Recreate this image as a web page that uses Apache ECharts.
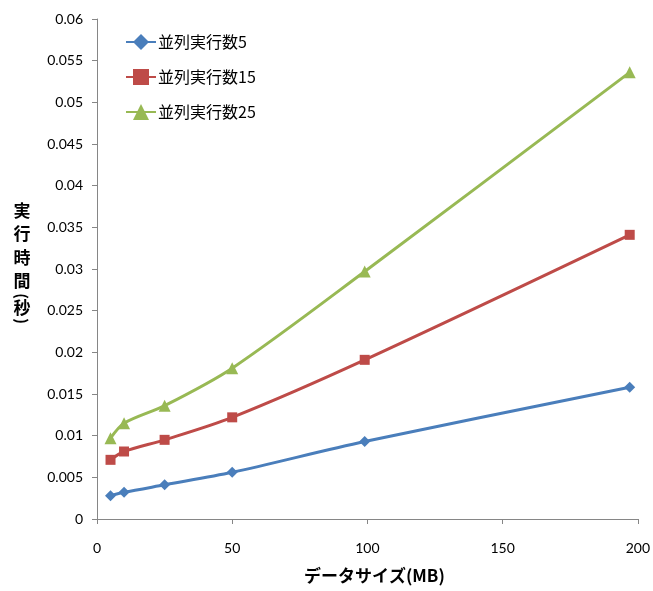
<!DOCTYPE html>
<html><head><meta charset="utf-8">
<script src="https://cdn.jsdelivr.net/npm/echarts@6/dist/echarts.min.js"></script>
<style>html,body{margin:0;padding:0;background:#fff}#c{width:653px;height:591px}</style>
</head><body><div id="c"></div>
<script>
const dataSizes = [5, 10, 25, 50, 99, 197];
const seriesNames = ['並列実行数5', '並列実行数15', '並列実行数25'];
const par5 = [0.0028, 0.0032, 0.0041, 0.0056, 0.0093, 0.0158];
const par15 = [0.0071, 0.0081, 0.0095, 0.0122, 0.0191, 0.0341];
const par25 = [0.0097, 0.0115, 0.0136, 0.0181, 0.0297, 0.0536];
const xTicks = [0, 50, 100, 150, 200];
const yTicks = [0, 0.005, 0.01, 0.015, 0.02, 0.025, 0.03, 0.035, 0.04, 0.045, 0.05, 0.055, 0.06];
const yTitleChars = ['実', '行', '時', '間', '(', '秒', ')'];
const xTitle = 'データサイズ(MB)';

const colors = ['#4a7ebb', '#be4b48', '#98b954'];
const symbols = ['diamond', 'rect', 'triangle'];
const sizes = [11, 10, 12];
const vals = [par5, par15, par25];
const yTitleY = [211, 234, 258, 281, 296, 308, 321];

const chart = echarts.init(document.getElementById('c'), null, {renderer: 'canvas'});
const font = 'Lato, "Noto Sans CJK JP", sans-serif';
const cjk = '"Noto Sans CJK JP", sans-serif';
chart.setOption({
  animation: false,
  textStyle: {fontFamily: font},
  grid: {left: 97, right: 13, top: 19, bottom: 72, containLabel: false},
  legend: {
    orient: 'vertical', left: 120, top: 27, itemGap: 15, itemWidth: 30, itemHeight: 20,
    textStyle: {fontSize: 16, lineHeight: 20, color: '#000', fontFamily: cjk, padding: [0, 0, 0, -3]},
    data: seriesNames
  },
  xAxis: {
    type: 'value', min: xTicks[0], max: xTicks[xTicks.length - 1], interval: 50,
    name: xTitle, nameLocation: 'middle', nameGap: 48,
    nameTextStyle: {fontSize: 17, fontWeight: 'bold', color: '#000', fontFamily: cjk, padding: [0, 0, 0, 14]},
    axisLine: {lineStyle: {color: '#868686', width: 1}},
    axisTick: {show: true, length: 5, lineStyle: {color: '#868686'}},
    axisLabel: {fontSize: 14, color: '#000', margin: 22},
    splitLine: {show: false}
  },
  yAxis: {
    type: 'value', min: yTicks[0], max: yTicks[yTicks.length - 1], interval: 0.005,
    axisLine: {show: true, lineStyle: {color: '#868686', width: 1}},
    axisTick: {show: true, length: 5, lineStyle: {color: '#868686'}},
    axisLabel: {fontSize: 14, color: '#000', margin: 14, formatter: v => String(+v.toFixed(3))},
    splitLine: {show: false}
  },
  graphic: yTitleChars.map((ch, i) => {
    const paren = ch === '(' || ch === ')';
    return {
      type: 'text', x: 22, y: yTitleY[i], rotation: paren ? -Math.PI / 2 : 0,
      style: {text: ch, fill: '#000', align: 'center', verticalAlign: 'middle',
        font: paren ? 'bold 15px "Noto Sans CJK JP", sans-serif' : 'bold 17px "Noto Sans CJK JP", sans-serif'}
    };
  }),
  series: seriesNames.map((n, i) => ({
    name: n, type: 'line', smooth: 0.3,
    data: dataSizes.map((x, j) => [x, vals[i][j]]),
    symbol: symbols[i], symbolSize: sizes[i],
    lineStyle: {color: colors[i], width: 3},
    itemStyle: {color: colors[i]},
    z: 2 + i
  }))
});
</script></body></html>
